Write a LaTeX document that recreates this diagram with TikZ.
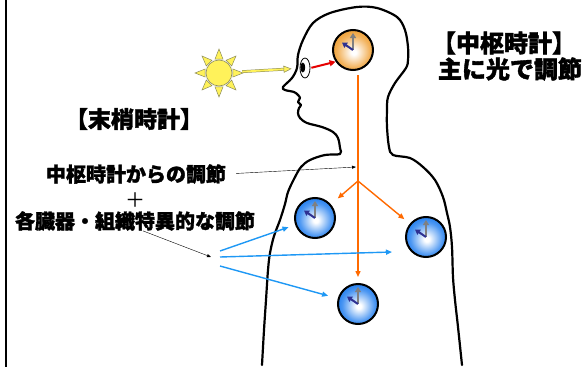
\documentclass[tikz,border=0pt]{standalone}
\usepackage{fontspec}
\newfontfamily\jp{Noto Sans CJK JP}[BoldFeatures={FakeBold=1.6}]
\usetikzlibrary{arrows.meta,shapes.geometric,calc}

\definecolor{clockblue}{HTML}{2F86F0}
\definecolor{clockorange}{HTML}{F0A540}
\definecolor{handblue}{HTML}{2E3192}
\definecolor{handgray}{HTML}{808080}
\definecolor{nerve}{HTML}{FF6A00}
\definecolor{signal}{HTML}{1E98F5}
\definecolor{sunyellow}{HTML}{FFF25A}
\definecolor{sunedge}{HTML}{8C8C5A}

% dial shadings with the bright spot a little below the centre
\pgfdeclareradialshading{bluedial}{\pgfpoint{1bp}{-3bp}}{%
  color(0bp)=(white); color(3bp)=(white); color(20bp)=(clockblue!85);
  color(25bp)=(clockblue); color(50bp)=(clockblue)}
\pgfdeclareradialshading{orangedial}{\pgfpoint{1bp}{-3bp}}{%
  color(0bp)=(white); color(3bp)=(white); color(20bp)=(clockorange!85);
  color(25bp)=(clockorange); color(50bp)=(clockorange)}

\tikzset{
  clockface/.style={circle, draw=black, line width=2pt, minimum size=40pt, inner sep=0pt},
  bodyclock/.style={clockface, shading=bluedial},
  brainclock/.style={clockface, shading=orangedial},
  minutehand/.style={draw=handgray, line width=2pt, -{Triangle[length=5pt,width=6pt]}},
  hourhand/.style={draw=handblue, line width=2pt, -{Triangle[length=5pt,width=6pt]}},
  outline/.style={draw=black, line width=2.2pt, line join=round, line cap=round},
  nervearrow/.style={draw=nerve, line width=1.4pt, -{Triangle[length=6pt,width=5pt]}},
  signalarrow/.style={draw=signal, line width=1.4pt, -{Triangle[length=6pt,width=5pt]}},
  pointer/.style={draw=black, line width=0.4pt, -{Triangle[length=4pt,width=3pt]}},
  ray/.style={fill=sunyellow, draw=sunedge, line width=0.5pt},
  heading/.style={font=\jp\bfseries\fontsize{24}{28}\selectfont, inner sep=0pt},
  label/.style={font=\jp\bfseries\fontsize{20}{24}\selectfont, inner sep=0pt},
}
\newcommand\clockhands[1]{%
  \draw[minutehand] (#1.center) -- ++(0,-17);
  \draw[hourhand] (#1.center) -- ++(-11,-7.5);}

\begin{document}
\begin{tikzpicture}[x=1pt,y=-1pt]
\useasboundingbox (0,0) rectangle (587,367);
\fill[white] (0,0) rectangle (587,367);

% frame line on the left
\draw[line width=2pt] (6,0) -- (6,367);

% body silhouette
\draw[outline] plot[smooth, tension=0.55] coordinates {
  (262,365) (264,330) (266,300) (268,270) (270,253) (274,236) (280,220)
  (285,204) (288,192) (294,179) (301,167) (310,160) (325,155) (340,154)
  (340,148) (338,138) (333,132) (322,127) (307,123) (300,118) (298,113)
  (299,108) (301,105) (298,102) (300,98) (298,95) (294,92) (285,90)
  (283,87) (292,78) (297,68) (298,55) (303,40) (313,23) (330,13) (357,7)
  (377,8) (397,17) (405,30) (408,47) (408,60) (406,68) (395,83) (388,97)
  (387,110) (387,127) (389,147) (393,155) (410,158) (423,167) (435,180)
  (443,197) (447,213) (450,227) (452,247) (453,277) (455,300) (458,327)
  (462,365)};

% eye
\node[ellipse, draw=black, line width=0.8pt, fill=white, minimum width=10pt,
      minimum height=20pt, inner sep=0pt] (eye) at (305,68) {};
\fill[black] (302.8,67.5) ellipse (2.4 and 5);

% sun
\coordinate (sunc) at (219,73);
\foreach \a in {0,45,...,315}
  \filldraw[ray] ($(sunc)+(\a+16:14.5)$) -- ($(sunc)+(\a:24)$) -- ($(sunc)+(\a-16:14.5)$) -- cycle;
\node[circle, fill=sunyellow, draw=sunedge, line width=0.6pt, minimum size=26pt,
      inner sep=0pt] (sun) at (sunc) {};

% light reaching the eye
\draw[draw=sunedge, line width=0.5pt, double=sunyellow, double distance=1.8pt,
      -{Triangle[length=8pt,width=7pt,fill=sunyellow]}, shorten <=10pt, shorten >=8pt]
  (sun) -- (eye);

% clocks
\node[brainclock] (brain) at (353,50) {};
\node[bodyclock] (ca) at (315,218) {};
\node[bodyclock] (cb) at (426,237) {};
\node[bodyclock] (cc) at (358,304) {};
\clockhands{brain}
\clockhands{ca}
\clockhands{cb}
\clockhands{cc}

% eye to central clock
\draw[draw=red!90!black, line width=2pt, -{Triangle[length=6pt,width=6pt]}, shorten <=1pt]
  (eye.east) -- (brain.214);

% central clock output
\coordinate (ntop) at (358,75);
\coordinate (nfork) at (358,181);
\draw[nervearrow, shorten >=6pt] (ntop) -- (cc);
\draw[nervearrow, shorten >=9pt] (nfork) -- (ca);
\draw[nervearrow, shorten >=7pt] (nfork) -- (cb);

% texts
\node[heading] (central) at (504,43) {【中枢時計】};
\node[heading] (light) at (510,69) {主に光で調節};
\node[heading, font=\jp\bfseries\fontsize{23}{27}\selectfont] (periph) at (134,119) {【末梢時計】};
\node[label] (fromcentral) at (136,174) {中枢時計からの調節};
\node[label, font=\jp\fontsize{20}{24}\selectfont] (plus) at (135,200) {＋};
\node[label] (organ) at (135,221) {各臓器・組織特異的な調節};

% pointers
\coordinate (nervept) at (356,167);
\coordinate (hub) at (211,257);
\draw[pointer, shorten <=10pt] (fromcentral.east) -- (nervept);
\draw[pointer] ([xshift=8pt]organ.south) -- (hub);

% local signals
\coordinate (s1) at (220,251);
\coordinate (s2) at (220,257);
\coordinate (s3) at (220,266);
\coordinate (cbside) at (392,252);
\draw[signalarrow, shorten >=7pt] (s1) -- (ca);
\draw[signalarrow] (s2) -- (cbside);
\draw[signalarrow, shorten >=10pt] (s3) -- (cc);
\end{tikzpicture}
\end{document}
